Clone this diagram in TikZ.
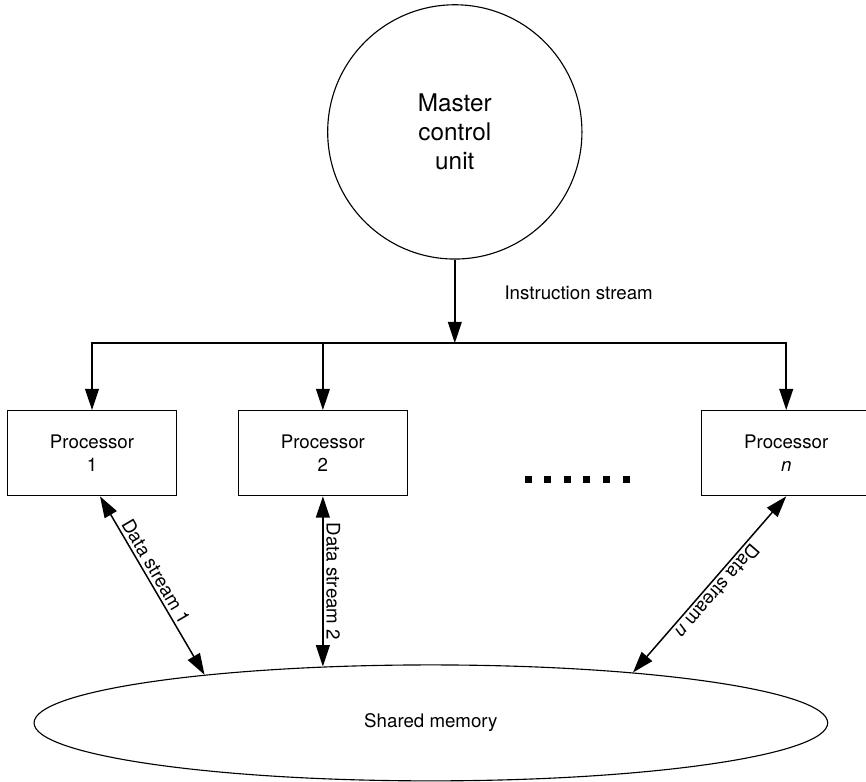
\documentclass[tikz,border=0pt]{standalone}
\usepackage{fontspec}
\setmainfont{TeX Gyre Heros}
\usepackage{tikz}
\usetikzlibrary{arrows.meta}
\usetikzlibrary{shapes.geometric}

\begin{document}
\begin{tikzpicture}[scale=1,
    proc/.style={draw,line width=0.6pt,minimum width=3.18cm,minimum height=1.6cm,align=center,inner sep=0pt,font=\fontsize{10}{12.5}\selectfont},
    link/.style={line width=0.8pt,-{Triangle[length=0.4cm,width=0.26cm]}},
    dlink/.style={line width=0.8pt,{Triangle[length=0.4cm,width=0.26cm]}-{Triangle[length=0.4cm,width=0.26cm]}},
    tick/.style={fill,minimum size=0.13cm,inner sep=0pt},
    lbl/.style={inner sep=1.5pt}]

      \useasboundingbox (0,0) rectangle (16.28,14.70);

      \node [draw,circle,line width=0.6pt,minimum size=4.78cm,align=center,font=\fontsize{13}{15.5}\selectfont] (mcu) at (8.55,12.22) {Master\\control\\unit};
      \coordinate (bus) at (8.55,8.25);
      \node [anchor=west] (instr) at (9.36,9.19) {Instruction stream};

      \node [proc] (p1) at (1.73,6.18) {Processor\\1};
      \node [proc] (p2) at (6.07,6.18) {Processor\\2};
      \node [proc] (pn) at (14.78,6.18) {Processor\\\textit{n}};

      \node [tick] (dot1) at (9.93,5.68) {};
      \node [tick] (dot2) at (10.30,5.68) {};
      \node [tick] (dot3) at (10.66,5.68) {};
      \node [tick] (dot4) at (11.03,5.68) {};
      \node [tick] (dot5) at (11.40,5.68) {};
      \node [tick] (dot6) at (11.77,5.68) {};

      \node [draw,ellipse,line width=0.6pt,minimum width=14.92cm,minimum height=2.18cm] (mem) at (8.10,1.11) {Shared memory};

      \draw [link] (mcu.south) -- (bus);
      \draw [link] (bus) -| (p1.north);
      \draw [link] (bus) -| (pn.north);
      \draw [link] (p2.north |- bus) -- (p2.north);

      \draw [dlink] ([xshift=0.15cm]p1.south) -- (mem.168.5) node [pos=0.45,sloped,above,lbl] {Data stream 1};
      \draw [dlink] (p2.south) -- (p2.south |- mem.152) node [midway,sloped,above,lbl] {Data stream 2};
      \draw [dlink] (pn.south) -- (mem.14.5) node [midway,sloped,above,allow upside down,lbl] {Data stream \textit{n}};
%      \draw (dot1) -- (dot6);

    \end{tikzpicture}
\end{document}
